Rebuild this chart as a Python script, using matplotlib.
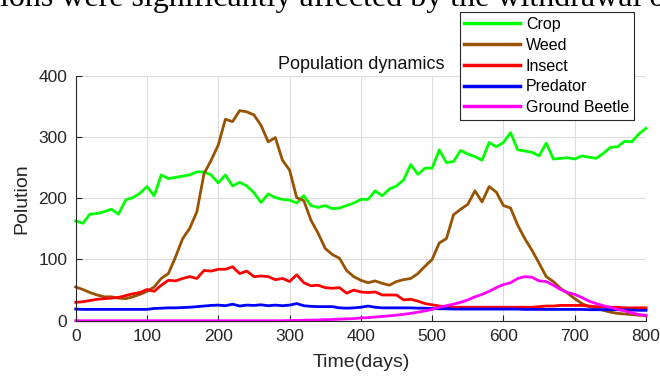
import matplotlib
matplotlib.use("Agg")
import matplotlib.pyplot as plt

plt.rcParams['font.family'] = ['Liberation Sans', 'DejaVu Sans']

days = list(range(0, 801, 10))

crop = [163, 159, 174, 175, 178, 182, 174, 197, 201, 208,
        219, 204, 238, 232, 234, 236, 238, 243, 243, 238,
        225, 238, 220, 226, 220, 209, 193, 207, 201, 198,
        197, 192, 204, 188, 185, 188, 183, 184, 188, 192,
        198, 198, 212, 204, 215, 220, 230, 255, 239, 249,
        249, 279, 258, 260, 278, 272, 268, 262, 291, 284,
        291, 307, 279, 277, 275, 269, 290, 264, 265, 266,
        264, 269, 267, 265, 273, 283, 284, 293, 292, 305,
        314]

weed = [55, 51, 46, 42, 39, 39, 37, 36, 39, 43,
        48, 55, 69, 77, 104, 134, 151, 178, 240, 262,
        287, 329, 325, 343, 341, 336, 319, 292, 299, 262,
        246, 201, 196, 164, 143, 118, 108, 102, 82, 72,
        66, 62, 65, 61, 58, 64, 67, 69, 77, 89,
        100, 127, 134, 173, 182, 190, 212, 194, 219, 210,
        188, 184, 156, 134, 115, 94, 72, 64, 53, 45,
        36, 28, 23, 20, 17, 14, 12, 11, 10, 9,
        8]

insect = [30, 31, 33, 35, 36, 37, 38, 41, 44, 46,
          51, 48, 58, 66, 65, 69, 72, 69, 82, 81,
          84, 84, 88, 77, 81, 72, 73, 72, 67, 69,
          64, 75, 62, 57, 58, 54, 53, 54, 45, 50,
          47, 46, 47, 42, 42, 42, 34, 35, 32, 28,
          26, 24, 23, 22, 22, 22, 22, 22, 22, 22,
          22, 22, 22, 22, 22, 23, 24, 24, 25, 25,
          25, 25, 24, 23, 22, 22, 22, 21, 21, 21,
          21]

predator = [19, 18.5, 18.5, 18.5, 18.5, 18.5, 18.5, 18.5, 18.5, 18.5,
            18.5, 20, 20.5, 21, 21, 21.5, 22, 23, 24, 25,
            25.5, 24.5, 27, 24, 25.5, 25, 26, 24.5, 25.5, 24.5,
            25.5, 28, 24.5, 23.5, 23, 23, 23, 21, 20.5, 21,
            22, 24, 22, 21, 21, 21, 21, 21, 20.5, 20.5,
            20, 19.5, 19.5, 19, 19, 19, 19, 19, 19, 19,
            19, 19, 19, 18.5, 18.5, 18.5, 18.5, 18.5, 18.5, 18.5,
            18.5, 18.5, 18, 18, 18, 18, 18, 17.5, 17.5, 17,
            17]

beetle = [0, 0, 0, 0, 0, 0, 0, 0, 0, 0,
          0, 0, 0, 0, 0, 0, 0, 0, 0, 0,
          0, 0, 0, 0, 0, 0, 0, 0, 0, 0,
          0.3, 0.5, 0.8, 1, 1.3, 1.7, 2, 2.5, 3, 3.5,
          4.5, 5, 6, 7, 8, 9, 10.5, 12, 14, 16,
          18.5, 22, 24.5, 27, 30, 34, 39, 43, 48, 54,
          59, 62, 69, 72, 71, 65, 64, 58, 51, 46,
          43, 38, 32, 28, 24.5, 22, 18.5, 16, 13, 10,
          9]

series = [("Crop", crop, "#00ff00"),
          ("Weed", weed, "#995200"),
          ("Insect", insect, "#ff0000"),
          ("Predator", predator, "#0000ff"),
          ("Ground Beetle", beetle, "#ff00ff")]

text_col = "#262626"

fig = plt.figure(figsize=(6.6, 3.76), dpi=100)
ax = fig.add_axes([0.1147, 0.147, 0.8641, 0.6517])

for name, vals, col in series:
    ax.plot(days, vals, color=col, linewidth=2.0, label=name, clip_on=False,
            solid_joinstyle='round')

ax.set_xlim(0, 800)
ax.set_ylim(0, 400)
ax.set_xticks(range(0, 801, 100))
ax.set_yticks(range(0, 401, 100))
ax.grid(True, color="#dcdcdc", linewidth=0.8)
ax.set_axisbelow(True)
for side in ("top", "right"):
    ax.spines[side].set_visible(False)
for side in ("left", "bottom"):
    ax.spines[side].set_color(text_col)
    ax.spines[side].set_linewidth(0.8)
ax.tick_params(direction="in", length=4, width=0.8, color=text_col,
               labelcolor=text_col, labelsize=12.5, pad=6)

ax.set_xlabel("Time(days)", fontsize=14, color=text_col, labelpad=7)
ax.set_ylabel("Polution", fontsize=14, color=text_col, labelpad=6)
ax.set_title("Population dynamics", fontsize=13, color="#111111", pad=5)

leg = fig.legend(loc="upper right", bbox_to_anchor=(0.9606, 0.9673),
                 fontsize=11.5, handlelength=3.5, handletextpad=0.35,
                 labelspacing=0.36, borderpad=0.3, borderaxespad=0,
                 fancybox=False, framealpha=1, edgecolor=text_col)
leg.get_frame().set_linewidth(0.8)
for h in leg.get_lines():
    h.set_linewidth(2.5)

# running text of the page above the figure
fig.text(0.0, 1 - 6 / 376, "ions were significantly affected by the withdrawal o",
         family=["Liberation Serif", "DejaVu Serif"], fontsize=23,
         va="baseline", ha="left", color="black")

fig.savefig("out.png", dpi=100)
